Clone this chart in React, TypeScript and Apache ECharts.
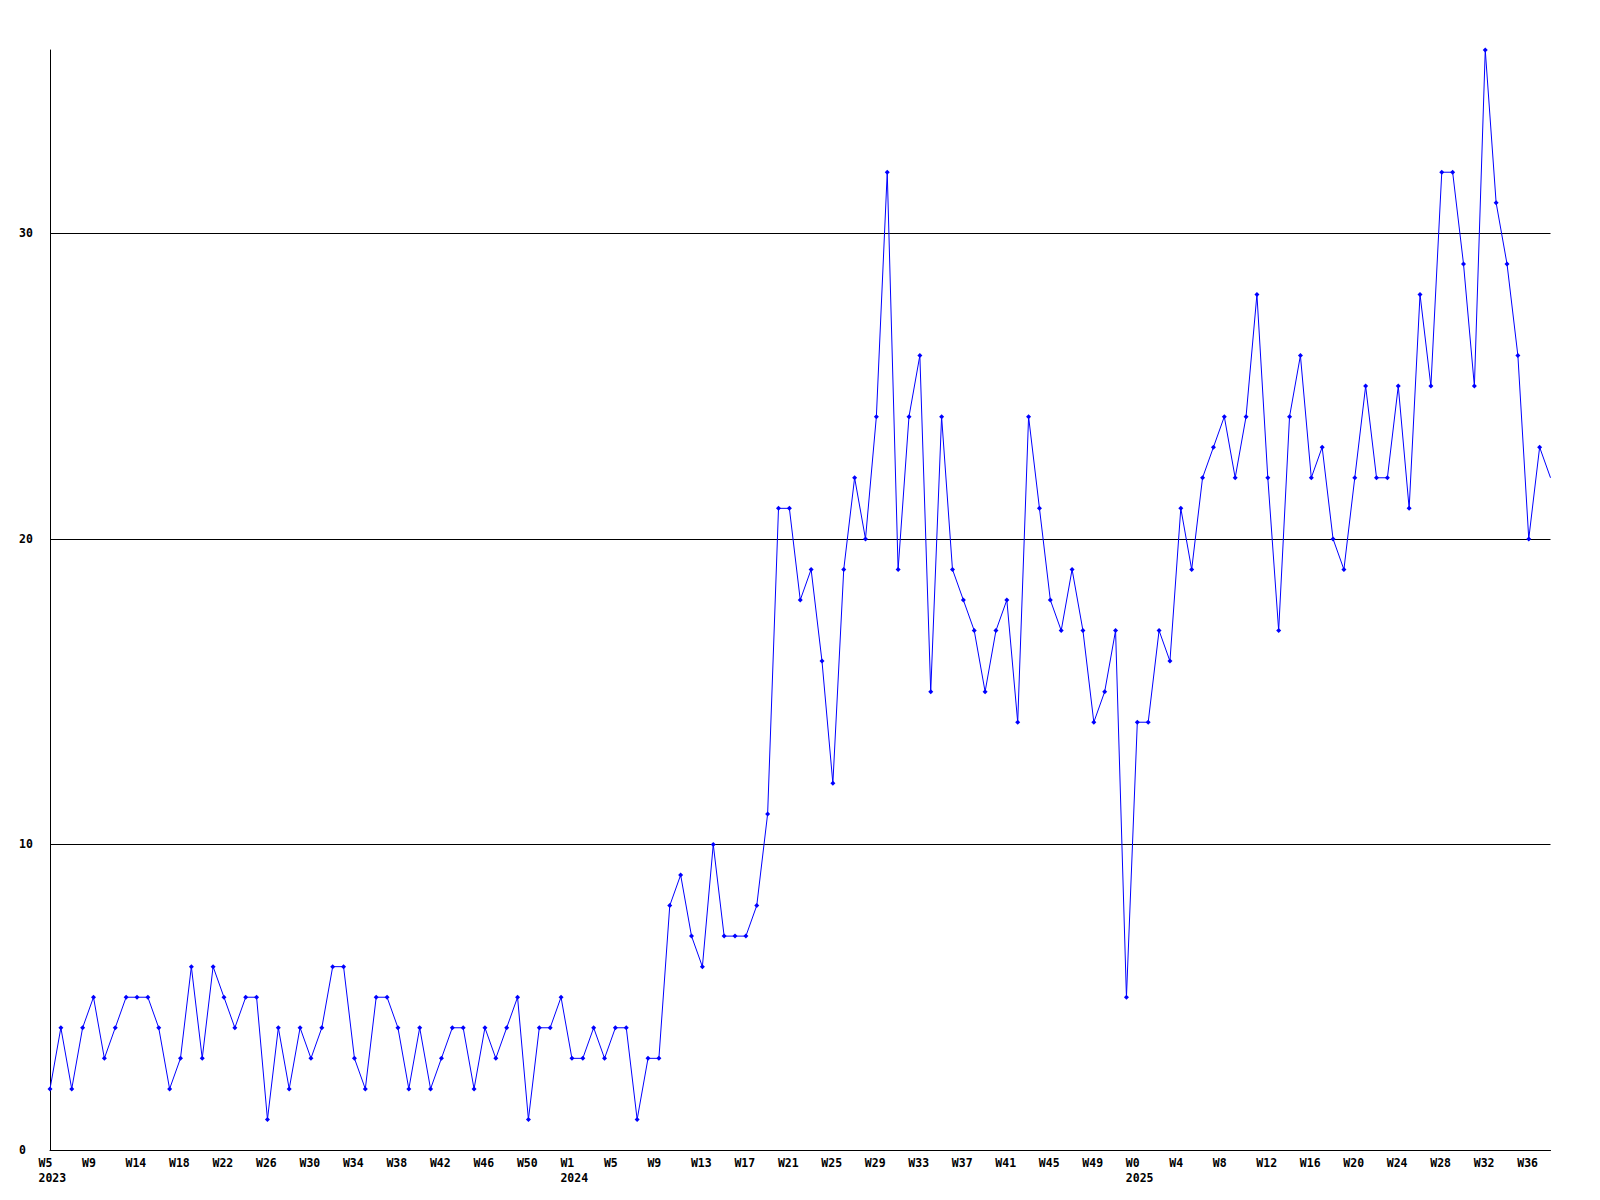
import React, { useEffect, useRef } from "react";
import * as echarts from "echarts";

const range = (a: number, b: number): number[] => {
  const r: number[] = [];
  for (let i = a; i <= b; i++) r.push(i);
  return r;
};

// Week buckets present in the data, per year
const weeks2023: number[] = [...range(5, 11), ...range(13, 53)];
const weeks2024: number[] = range(1, 52);
const weeks2025: number[] = range(0, 38);

const categories: string[] = [
  ...weeks2023.map((w) => `2023|W${w}`),
  ...weeks2024.map((w) => `2024|W${w}`),
  ...weeks2025.map((w) => `2025|W${w}`),
];

const values: number[] = [
  // 2023
  2, 4, 2, 4, 5, 3, 4, 5, 5, 5, 4, 2, 3, 6, 3, 6, 5, 4, 5, 5, 1, 4, 2, 4, 3, 4, 6, 6, 3, 2, 5, 5, 4,
  2, 4, 2, 3, 4, 4, 2, 4, 3, 4, 5, 1, 4, 4,
  // 2024
  5, 3, 3, 4, 3, 4, 4, 1, 3, 3, 8, 9, 7, 6, 10, 7, 7,
  7, 8, 11, 21, 21, 18, 19, 16, 12, 19, 22, 20, 24, 32, 19, 24, 26,
  15, 24, 19, 18, 17, 15, 17, 18, 14, 24, 21, 18, 17, 19, 17, 14, 15, 17, 5,
  // 2025
  14, 14,
  17, 16, 21, 19, 22, 23, 24, 22, 24, 28, 22, 17, 24, 26, 22, 23, 20,
  19, 22, 25, 22, 22, 25, 21, 28, 25, 32, 32, 29, 25, 36, 31, 29, 26, 20, 23, 22,
];

const labelEvery = 4;
const yTicks: number[] = [0, 10, 20, 30];
const yMax = 36;

const FONT = "DejaVu Sans Mono";

export default function App() {
  const ref = useRef<HTMLDivElement>(null);

  useEffect(() => {
    if (!ref.current) return;
    const chart = echarts.init(ref.current, undefined, { renderer: "svg" });

    const xLabel = (value: string, index: number): string => {
      const [year, week] = value.split("|");
      const prev = index - labelEvery >= 0 ? categories[index - labelEvery] : null;
      const showYear = !prev || prev.split("|")[0] !== year;
      return showYear ? `{a|${week}}\n{a|${year}}` : `{a|${week}}`;
    };

    // the last point sits on the plot edge and shows no marker in the reference
    const seriesData = values.map((v, i) =>
      i === values.length - 1 ? { value: v, symbol: "none" } : v
    );

    chart.setOption({
      animation: false,
      backgroundColor: "#ffffff",
      grid: { left: 50, right: 49.5, top: 50, bottom: 50, containLabel: false },
      xAxis: {
        type: "category",
        data: categories,
        boundaryGap: false,
        axisLine: { show: true, lineStyle: { color: "#000000", width: 1 } },
        axisTick: { show: false },
        splitLine: { show: false },
        axisLabel: {
          interval: labelEvery - 1,
          margin: 5,
          align: "center",
          formatter: xLabel,
          rich: {
            a: {
              width: 23,
              align: "left",
              fontFamily: FONT,
              fontSize: 11.5,
              fontWeight: "bold",
              lineHeight: 15,
              color: "#000000",
            },
          },
        },
      },
      yAxis: {
        type: "value",
        min: 0,
        max: yMax,
        interval: 10,
        axisLine: { show: true, lineStyle: { color: "#000000", width: 1 } },
        axisTick: { show: false },
        splitLine: {
          show: true,
          showMaxLine: false,
          lineStyle: {
            color: ["#000000", "#000000", "#000000", "#000000", "rgba(0,0,0,0)"],
            width: 1,
          },
        },
        axisLabel: {
          align: "left",
          margin: 31,
          showMaxLabel: false,
          fontFamily: FONT,
          fontSize: 11.5,
          fontWeight: "bold",
          color: "#000000",
          formatter: (v: number) => (yTicks.includes(v) ? String(v) : ""),
        },
      },
      series: [
        {
          type: "line",
          data: seriesData,
          symbol: "diamond",
          symbolSize: 5,
          showAllSymbol: true,
          lineStyle: { color: "#0000ff", width: 1 },
          itemStyle: { color: "#0000ff" },
          emphasis: { disabled: true },
        },
      ],
    });

    return () => {
      chart.dispose();
    };
  }, []);

  return (
    <div
      ref={ref}
      style={{ position: "fixed", left: 0, top: 0, width: 1600, height: 1200 }}
    />
  );
}
